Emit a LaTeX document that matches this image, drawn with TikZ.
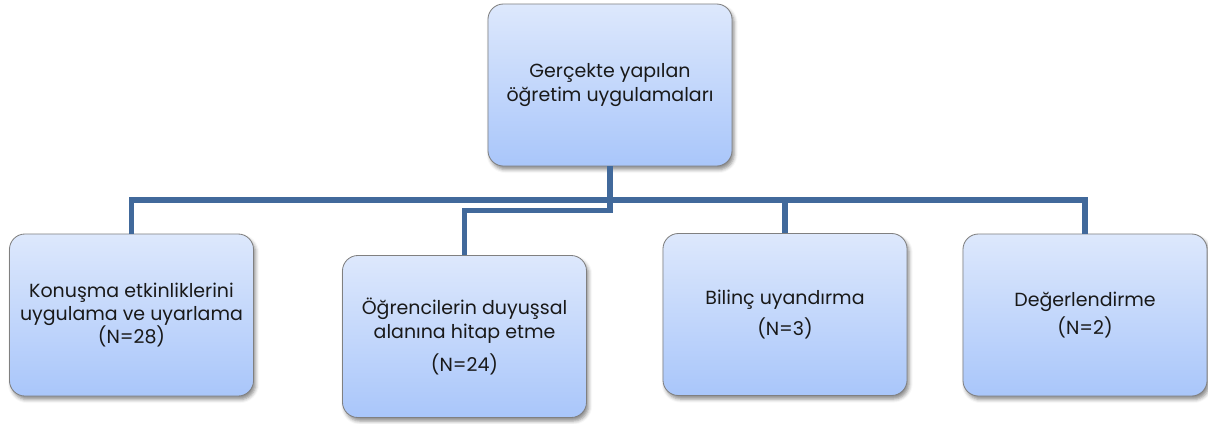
\documentclass[tikz,border=0pt]{standalone}
\usepackage{fontspec}
\setmainfont{Poppins}
\usetikzlibrary{calc,shadows.blur}
\definecolor{boxtop}{HTML}{DDE8FC}
\definecolor{boxbot}{HTML}{A9C6FA}
\definecolor{linkblue}{HTML}{41699B}
\tikzset{
  unitbox/.style={rectangle, rounded corners=11pt, draw=black!50, line width=0.6pt,
    top color=boxtop, bottom color=boxbot, minimum width=6.1cm, minimum height=4.05cm,
    align=center, font=\fontsize{13.5}{16.5}\selectfont, text=black!90,
    blur shadow={shadow xshift=1.5pt, shadow yshift=-2.5pt,
      shadow blur radius=2.5pt, shadow opacity=45}},
  link/.style={linkblue, line width=3.6pt}
}
\begin{document}
\begin{tikzpicture}[x=0.025cm,y=-0.025cm]
  \useasboundingbox (0,0) rectangle (1208,423);
  % root and the four groups
  \node[unitbox] (root) at (610,85) {Gerçekte yapılan\\öğretim uygulamaları};
  \node[unitbox] (k1) at (131.5,315) {Konuşma etkinliklerini\\uygulama ve uyarlama\\(N=28)};
  \node[unitbox] (k2) at (464.5,336.5) {Öğrencilerin duyuşsal\\alanına hitap etme\\[7pt](N=24)};
  \node[unitbox] (k3) at (785,314.5) {Bilinç uyandırma\\[6pt](N=3)};
  \node[unitbox] (k4) at (1085,315) {Değerlendirme\\[3pt](N=2)};
  % connectors
  \foreach \k in {k1,k2,k3,k4}
    \draw[link] (root.south) |- ($(root.south)!0.5!(\k.north)$) -| (\k.north);
\end{tikzpicture}
\end{document}
